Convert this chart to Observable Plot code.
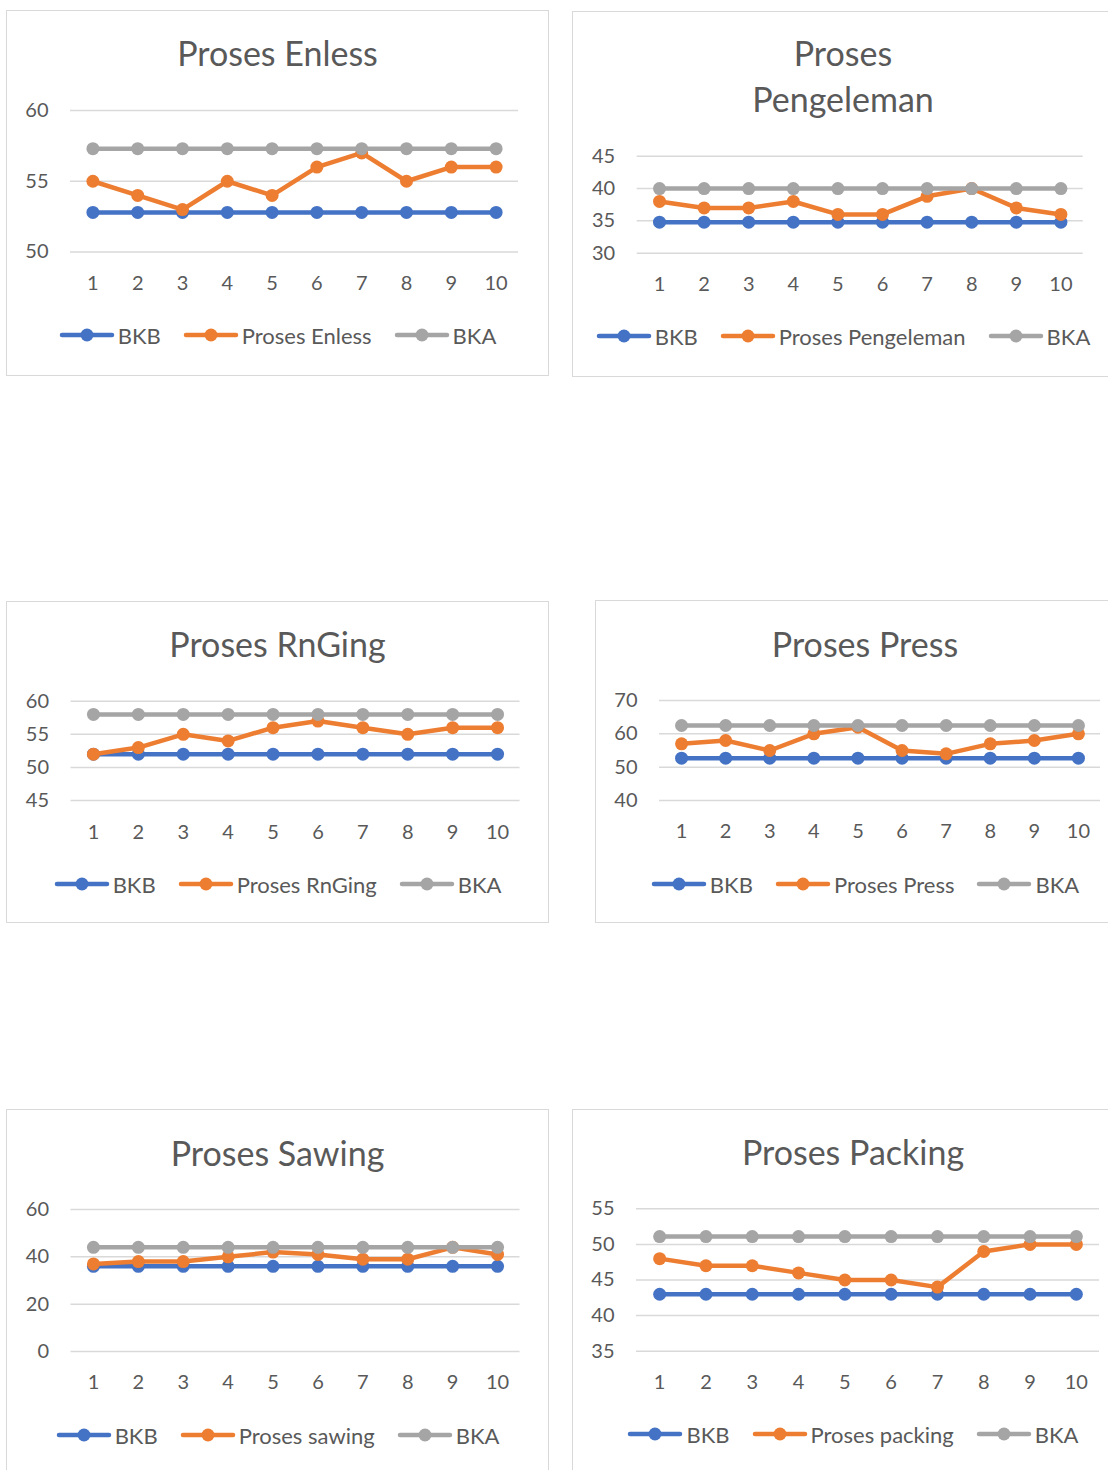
<!DOCTYPE html>
<html>
<head>
<meta charset="utf-8">
<script src="https://cdn.jsdelivr.net/npm/d3@7"></script>
<script src="https://cdn.jsdelivr.net/npm/@observablehq/plot@0.6"></script>
<style>
  html, body { margin: 0; padding: 0; background: #fff; }
  body { width: 1108px; height: 1470px; overflow: hidden; position: relative; font-family: Lato, "Open Sans", sans-serif; color: #595959; }
  .panel { position: absolute; }
  .frame { position: absolute; left: 0; top: 0; right: 0; bottom: 0; box-sizing: border-box; border: 1.5px solid #d9d9d9; }
  .panel svg.plot { position: absolute; left: 0; top: 0; overflow: visible; }
  .title { position: absolute; left: 0; right: 0; text-align: center; font-size: 34px; line-height: 46px; white-space: pre; }
  .legend { position: absolute; left: 0; right: 0; display: flex; justify-content: center; align-items: center; gap: 22px; font-size: 22px; height: 30px; }
  .legend .item { display: flex; align-items: center; }
  .legend .item span { margin-left: 3px; }
</style>
</head>
<body>
<script>
// ---------- data ----------
const periods = [1, 2, 3, 4, 5, 6, 7, 8, 9, 10];
const seriesNames = ["BKB", "Proses", "BKA"];

const enlessBKB  = [52.8, 52.8, 52.8, 52.8, 52.8, 52.8, 52.8, 52.8, 52.8, 52.8];
const enlessProc = [55, 54, 53, 55, 54, 56, 57, 55, 56, 56];
const enlessBKA  = [57.3, 57.3, 57.3, 57.3, 57.3, 57.3, 57.3, 57.3, 57.3, 57.3];
const enlessTicks = [50, 55, 60];

const pengelemanBKB  = [34.8, 34.8, 34.8, 34.8, 34.8, 34.8, 34.8, 34.8, 34.8, 34.8];
const pengelemanProc = [38, 37, 37, 38, 36, 36, 38.8, 40, 37, 36];
const pengelemanBKA  = [40, 40, 40, 40, 40, 40, 40, 40, 40, 40];
const pengelemanTicks = [30, 35, 40, 45];

const rngingBKB  = [52, 52, 52, 52, 52, 52, 52, 52, 52, 52];
const rngingProc = [52, 53, 55, 54, 56, 57, 56, 55, 56, 56];
const rngingBKA  = [58, 58, 58, 58, 58, 58, 58, 58, 58, 58];
const rngingTicks = [45, 50, 55, 60];

const pressBKB  = [52.7, 52.7, 52.7, 52.7, 52.7, 52.7, 52.7, 52.7, 52.7, 52.7];
const pressProc = [57, 58, 55, 60, 62, 55, 54, 57, 58, 60];
const pressBKA  = [62.5, 62.5, 62.5, 62.5, 62.5, 62.5, 62.5, 62.5, 62.5, 62.5];
const pressTicks = [40, 50, 60, 70];

const sawingBKB  = [36, 36, 36, 36, 36, 36, 36, 36, 36, 36];
const sawingProc = [37, 38, 38, 40, 42, 41, 39, 39, 44, 41];
const sawingBKA  = [44, 44, 44, 44, 44, 44, 44, 44, 44, 44];
const sawingTicks = [0, 20, 40, 60];

const packingBKB  = [43, 43, 43, 43, 43, 43, 43, 43, 43, 43];
const packingProc = [48, 47, 47, 46, 45, 45, 44, 49, 50, 50];
const packingBKA  = [51.1, 51.1, 51.1, 51.1, 51.1, 51.1, 51.1, 51.1, 51.1, 51.1];
const packingTicks = [35, 40, 45, 50, 55];

const titles = ["Proses Enless", "Proses\nPengeleman", "Proses RnGing", "Proses Press", "Proses Sawing", "Proses Packing"];
const legendNames = ["Proses Enless", "Proses Pengeleman", "Proses RnGing", "Proses Press", "Proses sawing", "Proses packing"];

// ---------- styles / layout ----------
const colors = {BKB: "#4472c4", Proses: "#ed7d31", BKA: "#a5a5a5"};

const panels = [
  {bkb: enlessBKB, proc: enlessProc, bka: enlessBKA, ticks: enlessTicks, dom: [50, 60],
   box: {left: 6, top: 10, width: 543, height: 366}, area: {l: 70, r: 518, t: 110, b: 251.5}, tickY: 283, legendY: 336, titleY: 55},
  {bkb: pengelemanBKB, proc: pengelemanProc, bka: pengelemanBKA, ticks: pengelemanTicks, dom: [30, 45],
   box: {left: 572, top: 11, width: 542, height: 366}, area: {l: 636.7, r: 1082.7, t: 155.7, b: 252.7}, tickY: 284, legendY: 337, titleY: 55},
  {bkb: rngingBKB, proc: rngingProc, bka: rngingBKA, ticks: rngingTicks, dom: [45, 60],
   box: {left: 6, top: 601, width: 543, height: 322}, area: {l: 70.5, r: 519.5, t: 700.7, b: 800}, tickY: 832, legendY: 885, titleY: 646},
  {bkb: pressBKB, proc: pressProc, bka: pressBKA, ticks: pressTicks, dom: [40, 70],
   box: {left: 595, top: 600, width: 540, height: 323}, area: {l: 659, r: 1100, t: 700, b: 800}, tickY: 831, legendY: 885, titleY: 646},
  {bkb: sawingBKB, proc: sawingProc, bka: sawingBKA, ticks: sawingTicks, dom: [0, 60],
   box: {left: 6, top: 1109, width: 543, height: 420}, area: {l: 70.5, r: 519.5, t: 1209, b: 1351}, tickY: 1382, legendY: 1436, titleY: 1155},
  {bkb: packingBKB, proc: packingProc, bka: packingBKA, ticks: packingTicks, dom: [35, 55],
   box: {left: 572, top: 1109, width: 562, height: 420}, area: {l: 636, r: 1099, t: 1208.3, b: 1350.7}, tickY: 1382, legendY: 1435, titleY: 1154}
];

panels.forEach((p, i) => {
  const {box, area} = p;
  const div = document.createElement("div");
  div.className = "panel";
  Object.assign(div.style, {left: box.left + "px", top: box.top + "px", width: box.width + "px", height: box.height + "px"});
  const frame = document.createElement("div");
  frame.className = "frame";
  div.appendChild(frame);

  // title
  const t = document.createElement("div");
  t.className = "title";
  t.textContent = titles[i];
  t.style.top = (p.titleY - box.top - 25) + "px";
  div.appendChild(t);

  // data table
  const rows = [];
  [["BKB", p.bkb], ["Proses", p.proc], ["BKA", p.bka]].forEach(([s, arr]) => {
    periods.forEach((x, k) => rows.push({series: s, period: x, value: arr[k]}));
  });

  const svgH = p.tickY + 20 - box.top;
  const marks = [
    Plot.ruleY(p.ticks, {stroke: "#d9d9d9", strokeWidth: 1.5}),
    Plot.axisY({ticks: p.ticks, tickSize: 0, tickPadding: 22, fontSize: 20, tickFormat: d => String(d)}),
    Plot.axisX({tickSize: 0, tickPadding: p.tickY - 8 - area.b, fontSize: 20})
  ];
  seriesNames.forEach(s => {
    const d = rows.filter(r => r.series === s);
    marks.push(Plot.line(d, {x: "period", y: "value", stroke: colors[s], strokeWidth: 4.5, strokeLinejoin: "round", strokeLinecap: "round"}));
    marks.push(Plot.dot(d, {x: "period", y: "value", r: 6.5, fill: colors[s], stroke: "none"}));
  });

  const chart = Plot.plot({
    width: box.width,
    height: svgH,
    marginLeft: area.l - box.left,
    marginRight: box.left + box.width - area.r,
    marginTop: area.t - box.top,
    marginBottom: svgH - (area.b - box.top),
    x: {type: "point", domain: periods, padding: 0.5, round: false, label: null},
    y: {domain: p.dom, label: null},
    style: {fontFamily: "Lato, 'Open Sans', sans-serif", fontSize: "20px", color: "#595959", background: "transparent", overflow: "visible"},
    marks
  });
  chart.classList.add("plot");
  div.appendChild(chart);

  // legend
  const lg = document.createElement("div");
  lg.className = "legend";
  lg.style.top = (p.legendY - box.top - 16) + "px";
  const labels = {BKB: "BKB", Proses: legendNames[i], BKA: "BKA"};
  seriesNames.forEach(s => {
    const it = document.createElement("div");
    it.className = "item";
    it.innerHTML = `<svg width="56" height="20"><line x1="3" y1="10" x2="53" y2="10" stroke="${colors[s]}" stroke-width="4.5" stroke-linecap="round"/><circle cx="28" cy="10" r="6.5" fill="${colors[s]}"/></svg><span>${labels[s]}</span>`;
    lg.appendChild(it);
  });
  div.appendChild(lg);

  document.body.appendChild(div);
});
</script>
</body>
</html>
